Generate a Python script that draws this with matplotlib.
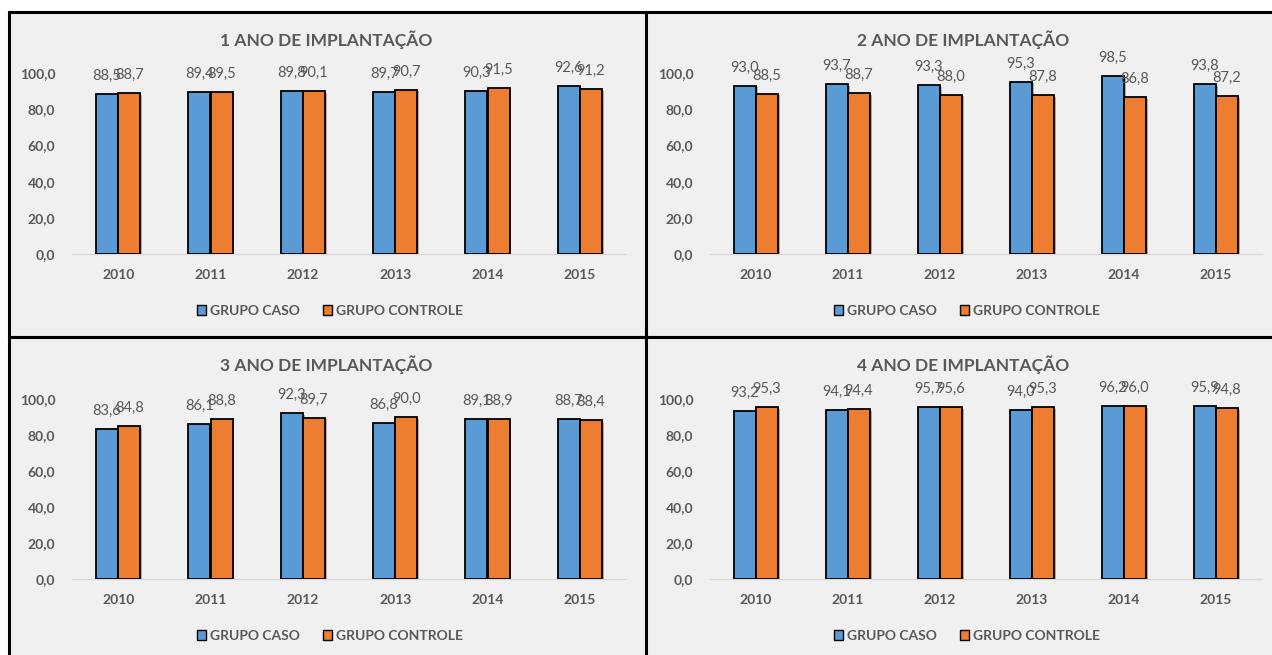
import numpy as np
import matplotlib.pyplot as plt
from matplotlib.patches import Rectangle
from matplotlib import patheffects as pe
from matplotlib.ticker import FuncFormatter

plt.rcParams['font.family'] = ['Lato', 'DejaVu Sans']

anos = ['2010', '2011', '2012', '2013', '2014', '2015']
titulos = ['1 ANO DE IMPLANTAÇÃO', '2 ANO DE IMPLANTAÇÃO',
           '3 ANO DE IMPLANTAÇÃO', '4 ANO DE IMPLANTAÇÃO']
caso_1 = [88.5, 89.4, 89.8, 89.7, 90.3, 92.6]
controle_1 = [88.7, 89.5, 90.1, 90.7, 91.5, 91.2]
caso_2 = [93.0, 93.7, 93.3, 95.3, 98.5, 93.8]
controle_2 = [88.5, 88.7, 88.0, 87.8, 86.8, 87.2]
caso_3 = [83.6, 86.1, 92.3, 86.8, 89.1, 88.7]
controle_3 = [84.8, 88.8, 89.7, 90.0, 88.9, 88.4]
caso_4 = [93.2, 94.1, 95.7, 94.0, 96.2, 95.9]
controle_4 = [95.3, 94.4, 95.6, 95.3, 96.0, 94.8]

AZUL = '#5B9BD5'
LARANJA = '#ED7D31'
CINZA = '#595959'
FUNDO = '#F0F0F0'

W, H = 1272, 655
fig = plt.figure(figsize=(W / 100, H / 100), dpi=100)
fig.patch.set_facecolor('white')

def fx(px):
    return px / W

def fy(py):
    return 1 - py / H

# panel frames (x0, y0, x1, y1) in pixels
paineis = [(9, 12, 646, 337), (646, 12, 1280, 337),
           (9, 337, 646, 670), (646, 337, 1280, 670)]
for x0, y0, x1, y1 in paineis:
    fig.patches.append(Rectangle((fx(x0), fy(y1)), fx(x1 - x0), (y1 - y0) / H,
                                 transform=fig.transFigure, facecolor=FUNDO,
                                 edgecolor='black', linewidth=2.2, zorder=-5))

# plot areas (left, top, right, bottom) in pixels
areas = [(72, 73, 626, 254), (710, 73, 1262, 254),
         (72, 399, 626, 579), (710, 399, 1262, 579)]
dados = [(caso_1, controle_1), (caso_2, controle_2),
         (caso_3, controle_3), (caso_4, controle_4)]
centros_titulo = [326, 963, 326, 963]

sombra = [pe.SimplePatchShadow(offset=(1.2, -1.2), alpha=0.35), pe.Normal()]
x = np.arange(len(anos))
w = 0.24
fmt = lambda v: f'{v:.1f}'.replace('.', ',')

for (l, t, r, b), (caso, controle), titulo, cx, painel in zip(
        areas, dados, titulos, centros_titulo, paineis):
    ax = fig.add_axes([fx(l), fy(b), fx(r - l), (b - t) / H])
    ax.set_facecolor('none')
    b1 = ax.bar(x - w / 2, caso, w, color=AZUL, edgecolor='black',
                linewidth=1.3, label='GRUPO CASO', zorder=3)
    b2 = ax.bar(x + w / 2, controle, w, color=LARANJA, edgecolor='black',
                linewidth=1.3, label='GRUPO CONTROLE', zorder=3)
    for barras in (b1, b2):
        for p in barras:
            p.set_path_effects(sombra)
        ax.bar_label(barras, labels=[fmt(v) for v in barras.datavalues],
                     padding=8, fontsize=10.5, color=CINZA, zorder=5)
    ax.set_xlim(-0.5, len(anos) - 0.5)
    ax.set_ylim(0, 100)
    ax.set_yticks(np.arange(0, 101, 20))
    ax.yaxis.set_major_formatter(FuncFormatter(lambda v, p: fmt(v)))
    ax.set_xticks(x)
    ax.set_xticklabels(anos)
    ax.tick_params(length=0, labelsize=10, labelcolor=CINZA)
    ax.tick_params(axis='x', pad=11)
    ax.tick_params(axis='y', pad=12)
    for lab in ax.get_xticklabels() + ax.get_yticklabels():
        lab.set_fontweight('bold')
    for s in ['top', 'right', 'left']:
        ax.spines[s].set_visible(False)
    ax.spines['bottom'].set_color('#D9D9D9')
    ax.spines['bottom'].set_linewidth(1)

    fig.text(fx(cx), fy(painel[1] + 28), titulo, ha='center', va='center',
             fontsize=12.5, fontweight='bold', color=CINZA)
    leg = ax.legend(loc='center', bbox_to_anchor=(fx(cx + 4), fy(b + 57)),
                    bbox_transform=fig.transFigure, ncol=2, frameon=False,
                    handlelength=0.7, handleheight=0.7, handletextpad=0.3,
                    columnspacing=1.6, fontsize=10)
    for txt in leg.get_texts():
        txt.set_color(CINZA)
        txt.set_fontweight('bold')
    for hnd in leg.legend_handles:
        hnd.set_path_effects([pe.Normal()])
        hnd.set_linewidth(1)

fig.savefig('out.png', dpi=100, facecolor='white')
